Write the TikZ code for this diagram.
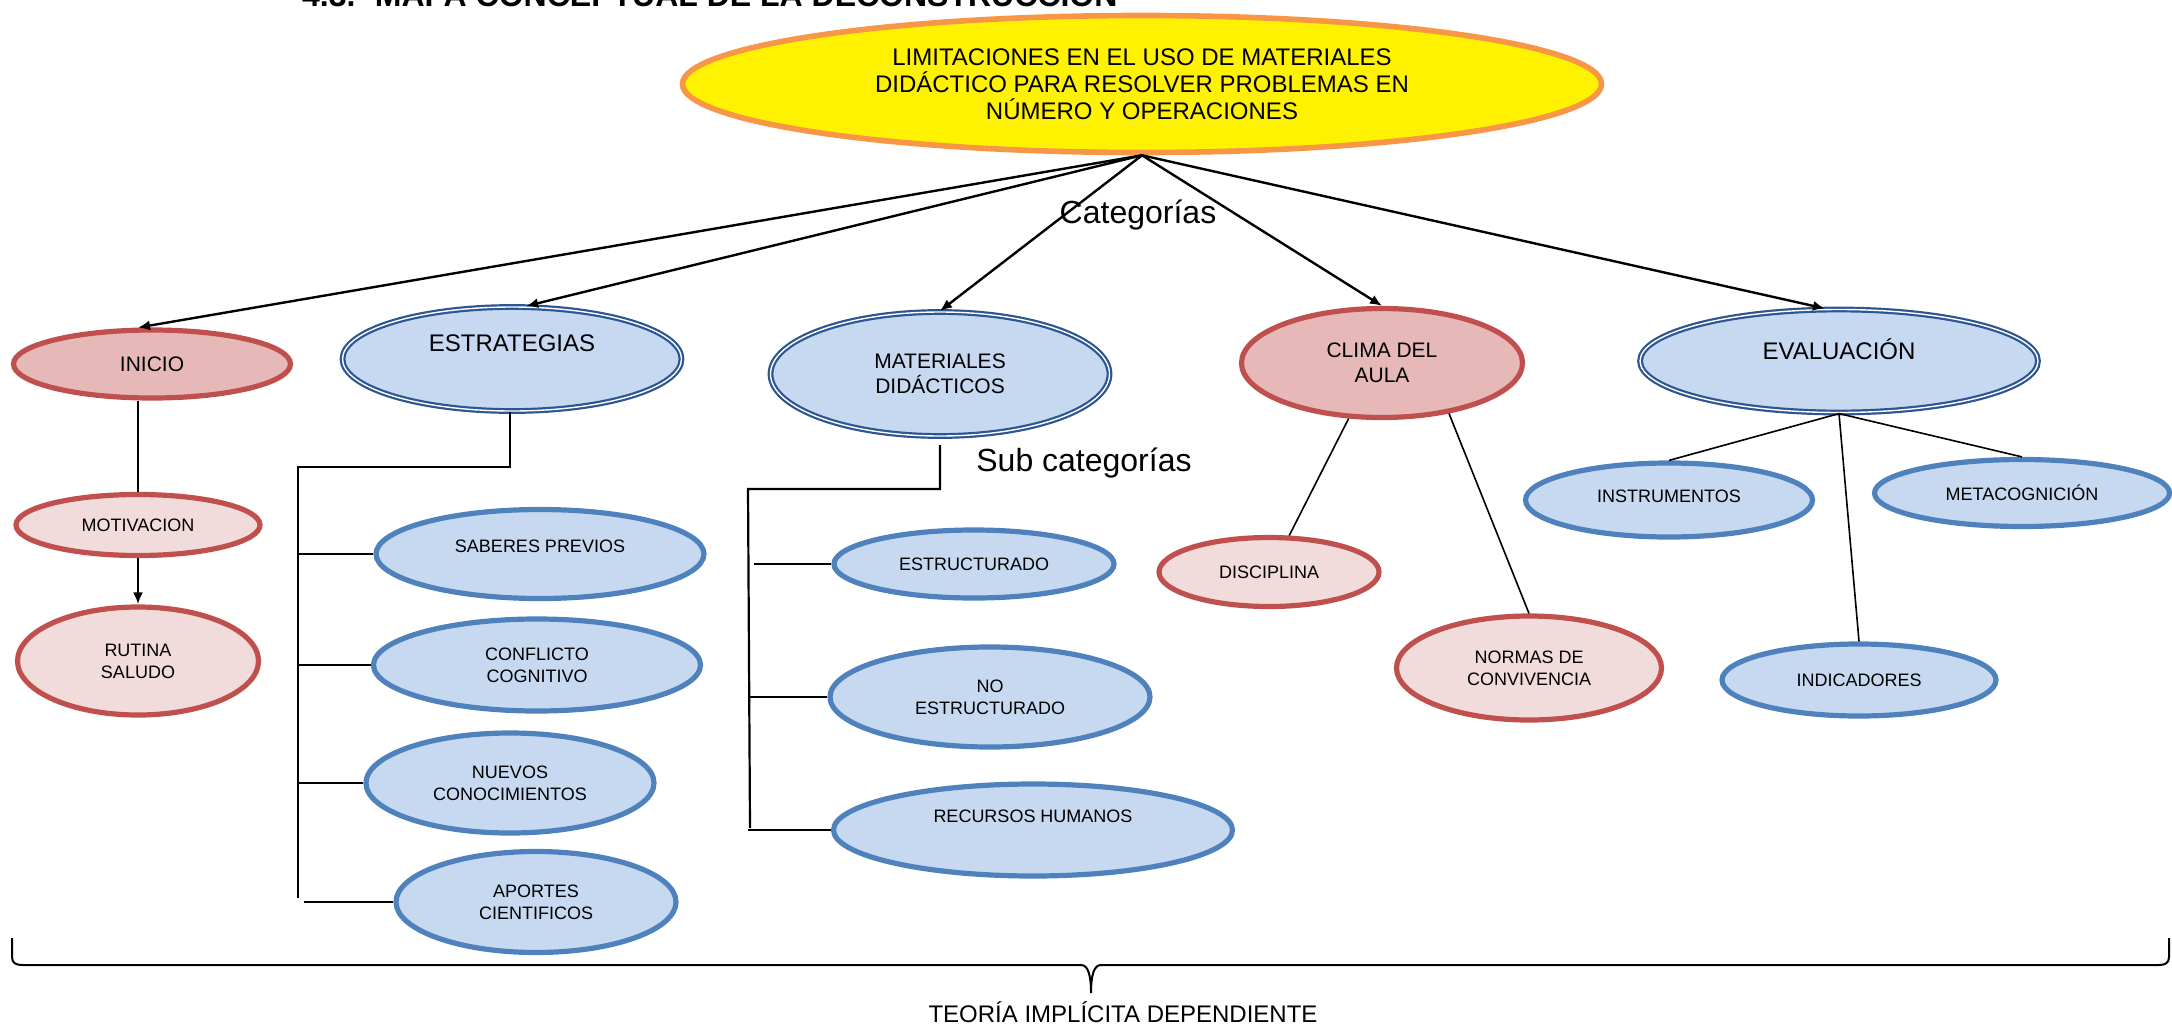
\documentclass[tikz,border=0pt]{standalone}
\usepackage{fontspec}
\setmainfont{Liberation Sans}
\usetikzlibrary{shapes.geometric,arrows.meta}

\definecolor{redline}{HTML}{C0504D}
\definecolor{redfill}{HTML}{E6B9B8}
\definecolor{pinkfill}{HTML}{F2DCDB}
\definecolor{blueline}{HTML}{4F81BD}
\definecolor{bluefill}{HTML}{C6D9F1}
\definecolor{darkblue}{HTML}{2C5592}
\definecolor{orangeline}{HTML}{F79646}

\begin{document}
\begin{tikzpicture}[x=0.5pt, y=-0.5pt,
    oval/.style={ellipse, inner sep=0pt, align=center},
    dims/.style 2 args={minimum width=#1*0.5pt, minimum height=#2*0.5pt},
    lift/.style={text depth=#1},
    redcat/.style={oval, draw=redline, fill=redfill, line width=2.6pt, font=\fontsize{10.5}{12.5}\selectfont},
    bluecat/.style={oval, draw=darkblue, fill=bluefill, line width=1.1pt, double=white, double distance=0.7pt, font=\fontsize{10.5}{12.5}\selectfont},
    redsub/.style={oval, draw=redline, fill=pinkfill, line width=2.6pt, font=\fontsize{9}{11}\selectfont},
    bluesub/.style={oval, draw=blueline, fill=bluefill, line width=2.6pt, font=\fontsize{9}{11}\selectfont},
    arrowline/.style={line width=1.2pt, -{Latex[length=6pt,width=5pt]}},
    barline/.style={line width=1.1pt},
    thinline/.style={line width=0.8pt},
    bigtext/.style={font=\fontsize{16}{19}\selectfont}]

    \useasboundingbox (0,0) rectangle (2172,1028);

    % title, cut at the top of the page
    \node[anchor=base west, font=\bfseries\fontsize{16}{19}\selectfont] (titulo) at (295,6) {4.3.- MAPA CONCEPTUAL DE LA DECONSTRUCCIÓN};

    \node[oval, draw=orangeline, fill=yellow, line width=2.8pt, dims={919}{137}, font=\fontsize{12}{13.5}\selectfont] (problema) at (1142,84) {LIMITACIONES EN EL USO DE MATERIALES\\DIDÁCTICO PARA RESOLVER PROBLEMAS EN\\NÚMERO Y OPERACIONES};

    % categorias
    \node[redcat, dims={277}{68}] (inicio) at (152,364) {INICIO};
    \node[bluecat, dims={339}{104}, font=\fontsize{12}{14}\selectfont, lift=16pt] (estrategias) at (512,359) {ESTRATEGIAS};
    \node[bluecat, dims={339}{124}] (materiales) at (940,374) {MATERIALES\\DIDÁCTICOS};
    \node[redcat, dims={281}{109}] (clima) at (1382,363) {CLIMA DEL\\AULA};
    \node[bluecat, dims={398}{103}, font=\fontsize{12}{14}\selectfont, lift=12pt] (evaluacion) at (1839,361) {EVALUACIÓN};

    \node[bigtext] (categorias) at (1138,215) {Categorías};
    \node[bigtext] (subcategorias) at (1084,463) {Sub categorías};

    \draw[arrowline] (problema.south) -- (inicio.111);
    \draw[arrowline] (problema.south) -- (estrategias.75);
    \draw[arrowline] (problema.south) -- (materiales.north);
    \draw[arrowline] (problema.south) -- (clima.north);
    \draw[arrowline] (problema.south) -- (evaluacion.105);

    % inicio
    \node[redsub, dims={244}{61}] (motivacion) at (138,525) {MOTIVACION};
    \node[redsub, dims={241}{108}] (rutina) at (138,661) {RUTINA\\SALUDO};
    \draw[barline] (motivacion.north |- inicio.south) -- (motivacion.north);
    \draw[arrowline] (motivacion.south) -- (rutina.north);

    % estrategias
    \node[bluesub, dims={328}{89}, lift=8pt] (saberes) at (540,554) {SABERES PREVIOS};
    \node[bluesub, dims={327}{92}] (conflicto) at (537,665) {CONFLICTO\\COGNITIVO};
    \node[bluesub, dims={288}{100}] (nuevos) at (510,783) {NUEVOS\\CONOCIMIENTOS};
    \node[bluesub, dims={280}{101}] (aportes) at (536,902) {APORTES\\CIENTIFICOS};
    \coordinate (ebar) at (298,467);
    \coordinate (ebot) at (298,898);
    \draw[barline] (estrategias.268) |- (ebar) -- (ebot);
    \draw[barline] (ebar |- saberes.west) -- (saberes.west);
    \draw[barline] (ebar |- conflicto.west) -- (conflicto.west);
    \draw[barline] (ebar |- nuevos.west) -- (nuevos.west);
    \draw[barline] ([xshift=3pt]ebar |- aportes.west) -- (aportes.west);

    % materiales
    \node[bluesub, dims={280}{68}] (estructurado) at (974,564) {ESTRUCTURADO};
    \node[bluesub, dims={320}{100}] (noestructurado) at (990,697) {NO\\ESTRUCTURADO};
    \node[bluesub, dims={399}{92}, lift=14pt] (recursos) at (1033,830) {RECURSOS HUMANOS};
    \coordinate (mbar) at (748,489);
    \coordinate (mbot) at (750,828);
    \draw[barline] ([yshift=-4pt]materiales.south) |- (mbar) -- (mbot);
    \draw[barline] ([xshift=3pt]mbar |- estructurado.west) -- (estructurado.west);
    \draw[barline] (mbar |- noestructurado.west) -- (noestructurado.west);
    \draw[barline] (mbar |- recursos.west) -- (recursos.west);

    % clima del aula
    \node[redsub, dims={220}{69}] (disciplina) at (1269,572) {DISCIPLINA};
    \node[redsub, dims={265}{104}] (normas) at (1529,668) {NORMAS DE\\CONVIVENCIA};
    \draw[thinline] (clima.239) -- (disciplina.61);
    \draw[thinline] (clima.323) -- (normas.north);

    % evaluacion
    \node[bluesub, dims={287}{74}, lift=4pt] (instrumentos) at (1669,500) {INSTRUMENTOS};
    \node[bluesub, dims={295}{67}] (metacognicion) at (2022,493) {METACOGNICIÓN};
    \node[bluesub, dims={274}{72}] (indicadores) at (1859,680) {INDICADORES};
    \draw[thinline] (evaluacion.south) -- (instrumentos.north);
    \draw[thinline] (evaluacion.south) -- (metacognicion.north);
    \draw[thinline] (evaluacion.south) -- (indicadores.north);

    % llave
    \draw[line width=1pt] (12,938) -- (12,957) .. controls (12,963) and (16,965) .. (22,965) -- (1081,965) .. controls (1088,965) and (1091,975) .. (1091,993) .. controls (1091,975) and (1094,965) .. (1101,965) -- (2159,965) .. controls (2165,965) and (2169,963) .. (2169,957) -- (2169,938);
    \node[font=\fontsize{12}{14}\selectfont] (teoria) at (1123,1012) {TEORÍA IMPLÍCITA DEPENDIENTE};
\end{tikzpicture}
\end{document}
